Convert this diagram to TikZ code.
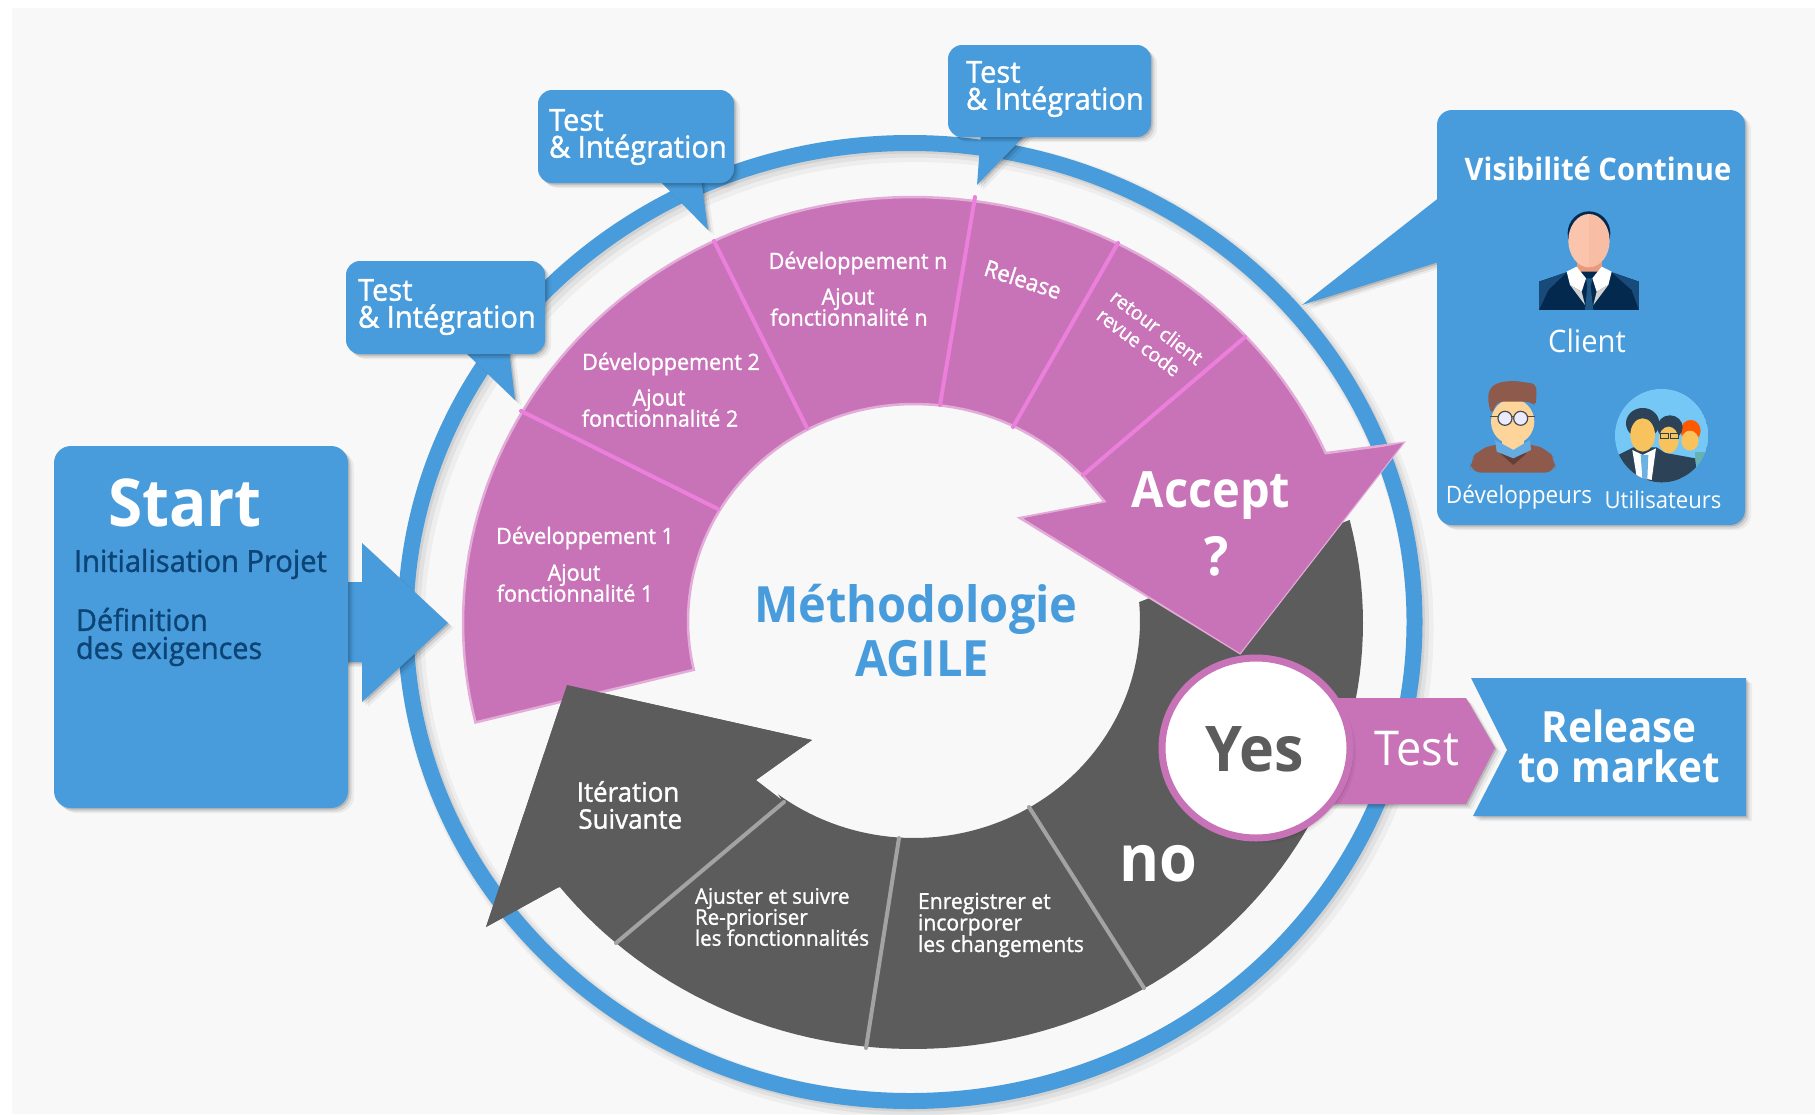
\documentclass[tikz,border=0pt]{standalone}
\usepackage{fontspec}
\usetikzlibrary{shadows}
\setmainfont{Open Sans}[FakeStretch=0.94]
\newfontfamily\semib{Open Sans}[FakeStretch=0.96,FakeBold=1.2]
\newcommand{\fs}[2]{\fontsize{#1}{#2}\selectfont\lineskiplimit=-100pt\relax}
\definecolor{bluemain}{HTML}{489CDC}
\definecolor{pinkmain}{HTML}{C873B7}
\definecolor{pinkedge}{HTML}{E3ACD8}
\definecolor{pinkline}{HTML}{EC7EDC}
\definecolor{darkmain}{HTML}{5C5C5C}
\definecolor{darkline}{HTML}{A3A3A3}
\definecolor{navy}{HTML}{0D4476}
\definecolor{bgpage}{HTML}{F8F8F8}
\definecolor{suit}{HTML}{03294F}
\definecolor{usr}{HTML}{2B4257}
\definecolor{skin}{HTML}{F8C35C}
\definecolor{skinA}{HTML}{FBC4AD}
\definecolor{skinB}{HTML}{EEAE92}
\definecolor{neckc}{HTML}{E89A7C}
\definecolor{devbrown}{HTML}{8E5A4B}
\definecolor{devskin}{HTML}{FDD49A}
\definecolor{sky}{HTML}{75C7F5}
\tikzset{
  softshadow/.style={
    drop shadow={shadow xshift=1.5pt,shadow yshift=-1.5pt,opacity=.14,fill=black},
    drop shadow={shadow xshift=3.5pt,shadow yshift=-3.5pt,opacity=.09,fill=black},
    drop shadow={shadow xshift=6pt,shadow yshift=-5pt,opacity=.05,fill=black}},
  bluefill/.style={fill=bluemain,softshadow},
  txt/.style={inner sep=0pt,outer sep=0pt,text=white},
  pinkdiv/.style={draw=pinkline,line width=4pt,line cap=round},
  darkdiv/.style={draw=darkline,line width=4pt,line cap=round},
  bubble/.style={bluefill,rounded corners=14pt},
  smalltxt/.style={txt,font=\semib\fs{22.4}{21},align=center},
  bubtxt/.style={txt,font=\semib\fs{30.3}{27},align=left,anchor=west}
}
\def\OCX{913}\def\OCY{623}\def\ORX{450}\def\ORY{426}
\def\ICX{914}\def\ICY{621}\def\IRX{226}\def\IRY{217}
\begin{document}
\begin{tikzpicture}[x=1pt,y=-1pt]
\useasboundingbox (0,0) rectangle (1815,1114);
\fill[white] (0,0) rectangle (1815,1114);
\fill[bgpage] (12,8) rectangle (1815,1114);

% outer ring, with its soft shadow
\draw[black,opacity=.04,line width=26pt] (916,628) ellipse [x radius=504.5,y radius=479];
\draw[black,opacity=.05,line width=21pt] (914,626) ellipse [x radius=504.5,y radius=479];
\draw[black,opacity=.07,line width=17pt] (912,624) ellipse [x radius=504.5,y radius=479];
\draw[bluemain,line width=16pt] (910,622) ellipse [x radius=504.5,y radius=479];

% dark half of the annulus, with its arrow
\path[fill=darkmain]
  (486,927) -- (567,685) -- (812,740) -- (756,780) -- (782,800)
  -- plot[domain=233:365,samples=70] ({\ICX+\IRX*cos(\x)},{\ICY-\IRY*sin(\x)})
  -- plot[domain=14:-142,samples=90] ({\OCX+\ORX*cos(\x)},{\OCY-\ORY*sin(\x)})
  -- (557,888) -- cycle;
\coordinate (gA) at (784,802); \coordinate (gB) at (616,943);
\coordinate (gC) at (899,838); \coordinate (gD) at (866,1048);
\coordinate (gE) at (1029,807); \coordinate (gF) at (1144,988);
\draw[darkdiv] (gA) -- (gB);
\draw[darkdiv] (gC) -- (gD);
\draw[darkdiv] (gE) -- (gF);

% pink half of the annulus, with its arrow
\path[fill=pinkmain,draw=pinkedge,line width=2.5pt,line join=miter]
  plot[domain=193.5:23.5,samples=90] ({\OCX+\ORX*cos(\x)},{\OCY-\ORY*sin(\x)})
  -- (1403,443) -- (1240,653) -- (1020,518) -- (1105,502) -- (1081,474)
  -- plot[domain=43:193,samples=70] ({\ICX+\IRX*cos(\x)},{\ICY-\IRY*sin(\x)})
  -- cycle;
\path[fill=pinkmain] (1323,459) -- (1403,443) -- (1240,653) -- (1024,518) -- (1108,502) -- (1140,480) -- cycle;
\coordinate (pA) at (521,411); \coordinate (pB) at (718,509);
\coordinate (pC) at (714,241); \coordinate (pD) at (807,428);
\coordinate (pE) at (975,197); \coordinate (pF) at (940,405);
\coordinate (pG) at (1118,243); \coordinate (pH) at (1013,427);
\coordinate (pI) at (1245,337); \coordinate (pJ) at (1083,475);
\draw[pinkdiv] (pA) -- (pB);
\draw[pinkdiv] (pC) -- (pD);
\draw[pinkdiv] (pE) -- (pF);
\draw[pinkdiv] (pG) -- (pH);
\draw[pinkdiv] (pI) -- (pJ);

% head of the dark arrow lies over the pink band
\fill[darkmain] (486,927) -- (567,685) -- (812,740) -- (756,780) -- (700,850) -- (557,888) -- cycle;

% release, test and yes
\path[bluefill] (1471,678) -- (1746,678) -- (1746,816) -- (1473,816) -- (1507,750) -- cycle;
\path[fill=pinkmain,softshadow] (1300,698) -- (1466,698) -- (1495,748) -- (1466,804) -- (1300,804) -- cycle;
\path[fill=white,draw=pinkmain,line width=7pt,softshadow] (1256,748) ellipse [x radius=94,y radius=90];

% start box
\path[bluefill] (362,582) -- (362,543) -- (448,623) -- (362,702) -- (362,662) -- (340,662) -- (340,582) -- cycle;
\path[bluefill,rounded corners=17pt] (54,446) rectangle (348,808);

% speech bubbles
\path[bluefill] (463,350) -- (515,400) -- (509,350) -- cycle;
\path[bubble] (346,261) rectangle (545,354);
\path[bluefill] (657,178) -- (708,230) -- (701,178) -- cycle;
\path[bubble] (538,90) rectangle (734,183);
\path[bluefill] (981,132) -- (977,185) -- (1028,132) -- cycle;
\path[bubble] (948,45) rectangle (1151,137);

% visibility box
\path[fill=bluemain,softshadow] (1445,193) -- (1302,305) -- (1445,260) -- cycle;
\path[bluefill,rounded corners=15pt] (1437,110) rectangle (1745,525);

% icons, in the coordinates of a 3x crop
\begin{scope}[shift={(1400,90)},x=0.3333pt,y=-0.3333pt]
  % client
  \fill[suit] (567,430) ellipse [x radius=64,y radius=66];
  \fill[neckc] (530,500) rectangle (605,560);
  \begin{scope}
    \clip (430,360) rectangle (567,560);
    \fill[skinA] (567,452) ellipse [x radius=62,y radius=80];
  \end{scope}
  \begin{scope}
    \clip (567,360) rectangle (700,560);
    \fill[skinA!70!skinB] (567,452) ellipse [x radius=62,y radius=80];
  \end{scope}
  \fill[suit] (417,575) -- (505,545) -- (630,545) -- (717,575) -- (717,660) -- (417,660) -- cycle;
  \fill[suit!70!bluemain] (417,575) -- (500,547) -- (445,600) -- (417,660) -- cycle;
  \fill[suit!70!bluemain] (717,575) -- (635,547) -- (695,600) -- (717,660) -- cycle;
  \fill[white] (500,545) -- (530,530) -- (558,565) -- (545,605) -- (510,585) -- cycle;
  \fill[white] (635,545) -- (605,530) -- (577,565) -- (590,605) -- (625,585) -- cycle;
  \fill[gray!35] (510,585) -- (545,605) -- (555,645) -- cycle;
  \fill[gray!35] (625,585) -- (590,605) -- (580,645) -- cycle;
  \fill[suit!60!bluemain] (558,565) -- (577,565) -- (572,590) -- (580,660) -- (555,660) -- (562,590) -- cycle;
  % developer
  \fill[devbrown,rounded corners=10pt] (212,1148) -- (212,1110) -- (235,1080) -- (285,1062) -- (395,1062) -- (445,1080) -- (465,1110) -- (465,1148) -- cycle;
  \fill[devbrown!70!black] (300,1090) -- (340,1125) -- (380,1090) -- cycle;
  \fill[devskin] (305,1030) rectangle (372,1085);
  \fill[bluemain!85!white] (285,1050) -- (340,1080) -- (390,1050) -- (393,1080) -- (340,1105) -- (290,1085) -- cycle;
  \fill[devskin] (338,995) ellipse [x radius=65,y radius=68];
  \fill[devbrown,rounded corners=6pt] (265,900) -- (290,878) -- (340,872) -- (410,882) -- (408,950) -- (392,935) -- (290,935) -- (276,975) -- (265,945) -- cycle;
  \draw[black!70,line width=1pt] (270,980) -- (405,980);
  \draw[black!70,fill=blue!8,line width=1.2pt] (315,985) circle (21);
  \draw[black!70,fill=blue!8,line width=1.2pt] (362,985) circle (21);
  % users
  \begin{scope}
    \clip (785,1037) circle (140);
    \fill[sky] (785,1037) circle (140);
    \fill[teal!60] (885,1085) rectangle (930,1180);
    \fill[orange!70!red] (872,1022) ellipse [x radius=30,y radius=32];
    \fill[skin] (870,1052) ellipse [x radius=26,y radius=30];
    \fill[usr] (775,1085) -- (885,1105) -- (895,1180) -- (760,1180) -- cycle;
    \fill[usr] (810,1012) ellipse [x radius=38,y radius=36];
    \fill[skin] (806,1050) ellipse [x radius=30,y radius=40];
    \draw[usr,line width=.8pt] (782,1030) rectangle (806,1046) (812,1030) rectangle (835,1046);
    \fill[usr] (655,1095) -- (700,1072) -- (770,1072) -- (830,1112) -- (845,1180) -- (655,1180) -- cycle;
    \fill[usr] (728,1000) ellipse [x radius=50,y radius=46];
    \fill[skin] (728,1035) ellipse [x radius=37,y radius=50];
    \fill[white] (697,1080) -- (728,1095) -- (768,1075) -- (755,1170) -- (710,1160) -- cycle;
    \fill[bluemain!80!white] (722,1095) -- (745,1095) -- (742,1170) -- (727,1165) -- cycle;
  \end{scope}
\end{scope}

% texts
\node[txt,font=\bfseries\fs{66}{66}] (tStart) at (185,503) {Start};
\node[txt,text=navy,font=\semib\fs{30.3}{30},anchor=west] (tInit) at (74,564) {Initialisation Projet};
\node[txt,text=navy,font=\semib\fs{30}{28},align=left,anchor=west] (tDef) at (76,637) {Définition\\des exigences};

\node[bubtxt] (tTest1) at (358,307) {Test\\\& Intégration};
\node[bubtxt] (tTest2) at (549,137) {Test\\\& Intégration};
\node[bubtxt] (tTest3) at (966,89) {Test\\\& Intégration};

\node[smalltxt] (tDev1) at (585,538) {Développement 1};
\node[smalltxt] (tAj1) at (575,583) {\hspace*{-2pt}Ajout\\fonctionnalité 1};
\node[smalltxt] (tDev2) at (671,364) {Développement 2};
\node[smalltxt] (tAj2) at (660,408) {\hspace*{-2pt}Ajout\\fonctionnalité 2};
\node[smalltxt] (tDevn) at (858,263) {Développement n};
\node[smalltxt] (tAjn) at (849,307) {\hspace*{-2pt}Ajout\\fonctionnalité n};
\node[txt,font=\semib\fs{23}{23},rotate=-18] (tRel) at (1023,279) {Release};
\node[txt,font=\semib\fs{20}{20},rotate=-37] (tRet) at (1157,327) {retour client};
\node[txt,font=\semib\fs{20}{20},rotate=-37] (tRev) at (1139,342) {revue code};

\node[txt,font=\bfseries\fs{50}{50}] (tAcc) at (1211,496) {Accept};
\node[txt,font=\bfseries\fs{54}{54}] (tQ) at (1217,556) {?};
\node[txt,text=bluemain,font=\bfseries\fs{50}{54},align=center] (tMeth) at (916,631) {Méthodologie\\\hspace*{12pt}AGILE};
\node[txt,text=darkmain,font=\bfseries\fs{63}{63}] (tYes) at (1255,749) {Yes};
\node[txt,font=\fs{48}{48}] (tTest) at (1417,749) {Test};
\node[txt,font=\bfseries\fs{43}{40},align=center] (tMarket) at (1619,746) {Release\\to market};
\node[txt,font=\bfseries\fs{65}{65}] (tNo) at (1158,864) {no};
\node[txt,font=\semib\fs{27}{27},align=center] (tIter) at (628,805) {Itération\\\,Suivante};
\node[txt,font=\semib\fs{21.4}{21},align=left,anchor=west] (tAju) at (695,917) {Ajuster et suivre\\Re-prioriser\\les fonctionnalités};
\node[txt,font=\semib\fs{22}{21.5},align=left,anchor=west] (tEnr) at (918,925) {Enregistrer et\\incorporer\\les changements};

\node[txt,font=\bfseries\fs{31}{31}] (tVis) at (1598,169) {Visibilité Continue};
\node[txt,font=\fs{31}{31}] (tCli) at (1587,341) {Client};
\node[txt,font=\fs{24}{24}] (tDv) at (1519,497) {Développeurs};
\node[txt,font=\fs{23.5}{23.5}] (tUt) at (1663,500) {Utilisateurs};
\end{tikzpicture}
\end{document}
